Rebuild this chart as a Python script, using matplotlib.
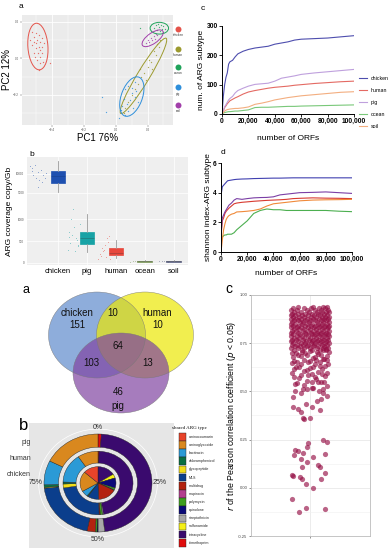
import numpy as np
import matplotlib
matplotlib.use('Agg')
import matplotlib.pyplot as plt
from matplotlib.patches import Ellipse, Wedge, Circle, Rectangle

plt.rcParams['font.family'] = ['Liberation Sans', 'DejaVu Sans']

# ── data ─────────────────────────────────────────────────────────────────────
# PCA (panel a, top)
pca_groups = ['chicken', 'human', 'ocean', 'pig', 'soil']
pca_colors = ['#E5534A', '#9C9A2E', '#1FA35A', '#2E8FDB', '#A23FAA']
chicken_pc1 = [-0.526, -0.516, -0.505, -0.495, -0.484, -0.499, -0.474, -0.463, -0.516, -0.526, -0.484, -0.463, -0.478,
               -0.505, -0.491, -0.474, -0.463, -0.516, -0.495, -0.478, -0.411, -0.484, -0.453, -0.537, -0.509, -0.457]
chicken_pc2 = [0.145, 0.118, 0.136, 0.100, 0.127, 0.082, 0.091, 0.109, 0.091, 0.073, 0.064, 0.064, 0.045,
               0.055, 0.027, 0.009, 0.027, 0.027, -0.009, -0.027, -0.027, -0.064, 0.082, 0.100, 0.009, -0.018]
human_pc1 = [0.28, 0.27, 0.25, 0.22, 0.24, 0.20, 0.18, 0.16, 0.19, 0.14, 0.12, 0.10, 0.08, 0.06, 0.05, 0.21, 0.23, 0.26, 0.15]
human_pc2 = [0.10, 0.06, 0.02, -0.02, 0.04, -0.05, -0.08, -0.10, -0.12, -0.14, -0.17, -0.20, -0.24, -0.27, -0.30, -0.01, -0.06, 0.08, -0.06]
ocean_pc1 = [0.25, 0.27, 0.29, 0.30, 0.26, 0.28, 0.31, 0.265, 0.285, 0.154, 0.24, 0.295]
ocean_pc2 = [0.18, 0.17, 0.16, 0.175, 0.155, 0.15, 0.16, 0.185, 0.18, 0.164, 0.165, 0.145]
pig_pc1 = [0.06, 0.08, 0.10, 0.12, 0.09, 0.07, 0.11, 0.05, 0.13, 0.04, 0.08, 0.10, 0.14, 0.06, 0.03, 0.12, -0.084, -0.063, 0.021]
pig_pc2 = [-0.17, -0.15, -0.19, -0.21, -0.23, -0.25, -0.27, -0.22, -0.18, -0.26, -0.29, -0.16, -0.24, -0.31, -0.28, -0.13, -0.209, -0.291, -0.327]
soil_pc1 = [0.20, 0.22, 0.24, 0.25, 0.21, 0.23, 0.26, 0.19, 0.245]
soil_pc2 = [0.10, 0.11, 0.12, 0.13, 0.09, 0.10, 0.125, 0.085, 0.105]
ell_cx = [-0.49, 0.174, 0.274, 0.101, 0.232]
ell_cy = [0.064, -0.096, 0.164, -0.209, 0.109]
ell_w = [0.255, 0.50, 0.116, 0.23, 0.15]
ell_h = [0.126, 0.075, 0.064, 0.13, 0.06]
ell_ang = [95, 55, 0, 65, 30]

# rarefaction curves (panels c, d top)
orfs = [0, 1000, 2000, 3000, 4000, 5000, 6000, 8000, 10000, 12000, 16000, 20000,
        25000, 30000, 35000, 40000, 45000, 50000, 55000, 60000, 70000, 80000, 90000, 100000]
curve_names = ['chicken', 'human', 'pig', 'ocean', 'soil']
n_chicken = [0, 60, 100, 125, 140, 170, 178, 183, 195, 205, 214, 220, 225, 228, 231, 238, 242, 246, 252, 255, 257, 259, 263, 267]
n_human = [0, 10, 22, 28, 35, 40, 45, 50, 55, 59, 68, 75, 80, 84, 88, 91, 93, 95, 98, 100, 104, 107, 110, 112]
n_pig = [0, 12, 25, 32, 40, 48, 53, 60, 72, 80, 88, 95, 101, 103, 105, 112, 122, 126, 130, 135, 140, 144, 148, 152]
n_ocean = [0, 3, 5, 6, 7, 8, 8, 9, 10, 10, 12, 14, 22, 23, 23, 24, 25, 26, 26, 27, 28, 29, 30, 31]
n_soil = [0, 5, 10, 13, 15, 16, 17, 18, 19, 19, 21, 24, 33, 37, 42, 48, 52, 56, 59, 62, 66, 70, 74, 76]
h_chicken = [3.8, 4.4, 4.5, 4.6, 4.7, 4.8, 4.82, 4.85, 4.88, 4.9, 4.92, 4.93, 4.95, 4.96, 4.97, 4.98, 4.98, 4.99, 5.0, 5.0, 5.0, 5.0, 5.0, 5.0]
h_human = [1.0, 2.1, 2.3, 2.6, 2.75, 2.85, 2.95, 3.1, 3.25, 3.3, 3.35, 3.38, 3.42, 3.45, 3.48, 3.5, 3.52, 3.55, 3.6, 3.62, 3.65, 3.63, 3.62, 3.6]
h_pig = [1.2, 2.3, 2.5, 2.7, 2.85, 3.0, 3.15, 3.3, 3.5, 3.6, 3.55, 3.6, 3.65, 3.67, 3.68, 3.72, 3.85, 3.9, 3.95, 4.0, 4.02, 4.05, 4.0, 3.95]
h_ocean = [0.9, 1.0, 1.1, 1.15, 1.15, 1.2, 1.2, 1.2, 1.3, 1.5, 1.8, 2.1, 2.6, 2.8, 2.9, 2.85, 2.85, 2.8, 2.8, 2.8, 2.8, 2.8, 2.75, 2.72]
h_soil = [0.0, 0.8, 1.5, 1.9, 2.2, 2.35, 2.45, 2.55, 2.6, 2.7, 2.72, 2.75, 2.8, 2.9, 3.1, 3.25, 3.3, 3.35, 3.4, 3.45, 3.5, 3.52, 3.53, 3.55]

# boxplot (panel b top)
box_names = ['chicken', 'pig', 'human', 'ocean', 'soil']
box_q1 = [7670, 423, 169, 18, 20]
box_med = [9350, 561, 231, 30, 32]
box_q3 = [10680, 700, 346, 42, 45]
box_lo = [5190, 254, 115, 10, 12]
box_hi = [13420, 1138, 523, 55, 58]
box_colors = ['#1E50B0', '#17A2A5', '#E8473C', '#7D9A5A', '#5E6486']
pts_grp = [0]*14 + [1]*14 + [2]*12 + [3]*5 + [4]*5
pts_x = [0.05, 0.12, 0.2, 0.3, 0.15, 0.4, 0.25, 0.35, 0.5, 0.6, 0.45, 0.1, 0.55, 0.3,
         1.35, 1.42, 1.5, 1.55, 1.62, 1.7, 1.45, 1.38, 1.58, 1.66, 1.75, 1.52, 1.4, 1.68,
         2.4, 2.48, 2.55, 2.62, 2.7, 2.78, 2.45, 2.52, 2.66, 2.74, 2.58, 2.8,
         3.5, 3.6, 3.68, 3.75, 3.82, 4.5, 4.6, 4.68, 4.75, 4.82]
pts_y = [12000, 11500, 12500, 10500, 9800, 11000, 9000, 8500, 9600, 10200, 7800, 10800, 8800, 6500,
         300, 450, 650, 820, 560, 380, 1000, 700, 260, 520, 900, 1250, 600, 420,
         80, 150, 260, 400, 560, 620, 200, 330, 120, 480, 300, 90,
         25, 30, 35, 28, 32, 28, 34, 30, 36, 26]

# Venn (panel a bottom)
venn_labels = [('chicken', 77, 313), ('151', 77, 325), ('10', 113, 313), ('human', 157, 313), ('10', 158, 325),
               ('64', 118, 346), ('103', 91, 363), ('13', 148, 363), ('46', 118, 392), ('pig', 118, 406)]

# donut (panel b bottom), stacking order clockwise from 0%
arg_types = ['aminocoumarin', 'aminoglycoside', 'bacitracin', 'chloramphenicol', 'glycopeptide', 'MLS',
             'multidrug', 'mupirocin', 'polymyxin', 'quinolone', 'streptothricin', 'sulfonamide',
             'tetracycline', 'trimethoprim']
arg_colors = ['#E8432A', '#D9881E', '#2B9AD6', '#0A7042', '#F2DE1A', '#0B3E8C', '#B3220F',
              '#B23E8E', '#3E9E1F', '#0A0A78', '#A8A8A8', '#F5F018', '#3A0A6E', '#E00D0D']
pct_chicken = [13.5, 20, 6, 1, 0, 10, 17, 0.5, 2, 10, 0, 4, 16, 0]
pct_human = [0, 9.5, 15, 1, 2, 23, 0.5, 0, 1, 0, 0.5, 0, 47, 0.5]
pct_pig = [0, 17.6, 8, 0.8, 0.3, 20, 2.5, 0, 0.5, 0.3, 2, 0, 47, 1]
ring_names = ['chicken', 'human', 'pig']
ring_in = [0.0, 0.407, 0.731]
ring_out = [0.333, 0.648, 1.0]

# correlation scatter (panel c bottom)
sparse_jit = [-0.18, -0.04, -0.11, 0.15, 0.03, -0.04, -0.17, -0.18, -0.10, -0.08, 0.11, 0.15, -0.09, -0.16, -0.15,
              -0.12, -0.07, -0.03, -0.08, 0.03, -0.03, -0.02, 0.08, 0.10, 0.15, 0.13, 0.17, -0.17, -0.12, -0.09,
              -0.07, -0.06, 0.0, 0.02, -0.04, 0.10, -0.17,
              0.069, 0.11, 0.173, -0.148, -0.094, -0.031, 0.031, 0.094, 0.132, -0.126, -0.063, 0.016, 0.079, 0.142,
              -0.164, -0.094, -0.016, 0.047, 0.119, 0.173, -0.157, -0.11, -0.031, 0.031, 0.101, 0.151, -0.182,
              -0.126, -0.063, 0.0, 0.063, 0.126, 0.173, -0.173, -0.094, -0.031, 0.047, 0.11, 0.167, -0.142,
              -0.079, 0.0, 0.069, 0.132, 0.189,
              -0.18, -0.05, 0.08, 0.16, -0.12, 0.03, 0.14, -0.16, -0.02, 0.10, -0.09, 0.05, 0.18, -0.14, 0.0,
              0.12, -0.06, 0.08, -0.18, 0.02, 0.15, -0.11, 0.06, -0.03, 0.11, -0.15, 0.17, 0.02, -0.07, 0.13]
sparse_r = [-0.057, -0.106, -0.127, -0.111, -0.003, 0.018, 0.060, 0.065, 0.057, 0.047, 0.044, 0.077, 0.150, 0.170,
            0.195, 0.19, 0.18, 0.134, 0.11, 0.16, 0.21, 0.232, 0.118, 0.11, 0.175, 0.25, 0.237, 0.417, 0.407, 0.395,
            0.361, 0.358, 0.363, 0.417, 0.436, 0.402, 0.469,
            0.449, 0.461, 0.477, 0.502, 0.493, 0.510, 0.518, 0.502, 0.510, 0.542, 0.534, 0.551, 0.551, 0.551,
            0.575, 0.583, 0.587, 0.575, 0.592, 0.596, 0.616, 0.624, 0.613, 0.624, 0.632, 0.632, 0.645,
            0.652, 0.665, 0.657, 0.665, 0.668, 0.662, 0.681, 0.685, 0.690, 0.681, 0.690, 0.685, 0.701,
            0.706, 0.711, 0.706, 0.714, 0.706,
            0.70, 0.70, 0.695, 0.72, 0.69, 0.675, 0.67, 0.66, 0.655, 0.65, 0.64, 0.64, 0.64, 0.625, 0.62,
            0.615, 0.605, 0.60, 0.595, 0.59, 0.58, 0.57, 0.565, 0.555, 0.55, 0.54, 0.53, 0.52, 0.51, 0.49]
dense_rows = [
    (0.938, [-0.12, 0.03, 0.13, 0.17]),
    (0.930, [-0.17, -0.06, 0.01, 0.09, 0.15]),
    (0.921, [-0.19, -0.13, -0.03, 0.05, 0.11, 0.18]),
    (0.912, [-0.16, -0.09, -0.01, 0.07, 0.12, 0.16, 0.19]),
    (0.903, [-0.18, -0.12, -0.05, 0.02, 0.08, 0.14]),
    (0.894, [-0.19, -0.15, -0.08, -0.02, 0.04, 0.10, 0.17]),
    (0.886, [-0.17, -0.11, -0.06, 0.01, 0.06, 0.12, 0.15, 0.19]),
    (0.877, [-0.19, -0.14, -0.09, -0.03, 0.03, 0.09, 0.14, 0.18]),
    (0.868, [-0.16, -0.12, -0.05, 0.0, 0.05, 0.11, 0.16]),
    (0.859, [-0.18, -0.10, -0.07, -0.01, 0.07, 0.13, 0.19]),
    (0.850, [-0.19, -0.15, -0.08, -0.03, 0.02, 0.08, 0.12, 0.17]),
    (0.841, [-0.17, -0.12, -0.05, 0.01, 0.05, 0.10, 0.15, 0.19]),
    (0.832, [-0.19, -0.13, -0.09, -0.02, 0.04, 0.09, 0.14, 0.18]),
    (0.823, [-0.16, -0.11, -0.06, 0.0, 0.06, 0.12, 0.17]),
    (0.814, [-0.18, -0.14, -0.07, -0.02, 0.03, 0.08, 0.13, 0.19]),
    (0.805, [-0.19, -0.12, -0.05, 0.01, 0.07, 0.11, 0.16]),
    (0.796, [-0.17, -0.10, -0.04, 0.02, 0.05, 0.10, 0.15, 0.18]),
    (0.787, [-0.19, -0.13, -0.08, -0.02, 0.04, 0.09, 0.14, 0.19]),
    (0.778, [-0.16, -0.11, -0.06, 0.0, 0.06, 0.12, 0.17]),
    (0.769, [-0.18, -0.14, -0.07, -0.01, 0.03, 0.08, 0.13, 0.18]),
    (0.760, [-0.19, -0.12, -0.04, 0.02, 0.07, 0.11, 0.16]),
    (0.751, [-0.17, -0.09, -0.05, 0.01, 0.05, 0.10, 0.15, 0.19]),
    (0.742, [-0.18, -0.13, -0.07, -0.02, 0.04, 0.12, 0.17]),
    (0.733, [-0.15, -0.10, -0.03, 0.03, 0.08, 0.14]),
    (0.724, [-0.19, -0.12, -0.06, 0.0, 0.07, 0.13, 0.18]),
    (0.716, [-0.16, -0.08, 0.02, 0.10, 0.16]),
]

# ── figure / helpers ─────────────────────────────────────────────────────────
W, H = 389, 550
fig = plt.figure(figsize=(W/100, H/100), dpi=100)
fig.patch.set_facecolor('white')

def px_axes(l, t, r, b, **kw):
    return fig.add_axes([l/W, 1 - b/H, (r - l)/W, (b - t)/H], **kw)

GREY = '#EBEBEB'

# ── a: PCA ───────────────────────────────────────────────────────────────────
ax = px_axes(22, 15, 173, 125)
ax.set_facecolor(GREY)
ax.set_xlim(-0.59, 0.36)
ax.set_ylim(-0.364, 0.236)
ax.set_xticks([-0.4, -0.2, 0.0, 0.2])
ax.set_yticks([-0.2, 0.0, 0.2])
ax.set_xticks([-0.5, -0.3, -0.1, 0.1, 0.3], minor=True)
ax.set_yticks([-0.3, -0.1, 0.1], minor=True)
ax.grid(True, which='major', color='white', lw=0.6)
ax.grid(True, which='minor', color='white', lw=0.3)
ax.set_axisbelow(True)
for s in ax.spines.values():
    s.set_visible(False)
ax.tick_params(labelsize=2.2, length=1.2, width=0.3, colors='#555555', pad=1)
ax.tick_params(which='minor', length=0)
pc1 = [chicken_pc1, human_pc1, ocean_pc1, pig_pc1, soil_pc1]
pc2 = [chicken_pc2, human_pc2, ocean_pc2, pig_pc2, soil_pc2]
for i, g in enumerate(pca_groups):
    ax.scatter(pc1[i], pc2[i], s=0.9, color=pca_colors[i], alpha=0.8, lw=0)
    ax.add_patch(Ellipse((ell_cx[i], ell_cy[i]), ell_w[i], ell_h[i], angle=ell_ang[i],
                         fill=False, ec=pca_colors[i], lw=0.7))
ax.set_xlabel('PC1 76%', fontsize=7, labelpad=0.5)
ax.set_ylabel('PC2 12%', fontsize=7, labelpad=1)

# ── c: richness curves ───────────────────────────────────────────────────────
curve_c = ['#4E4EAE', '#E46A63', '#BFA0DD', '#79C879', '#F3AE80']
ax = px_axes(222, 26, 354, 114)
for name, y, c in zip(curve_names, [n_chicken, n_human, n_pig, n_ocean, n_soil], curve_c):
    ax.plot(orfs, y, color=c, lw=0.8, label=name)
ax.set_xlim(0, 100000)
ax.set_ylim(0, 300)
ax.set_xticks([0, 20000, 40000, 60000, 80000, 100000])
ax.set_xticklabels(['0', '20,000', '40,000', '60,000', '80,000', '100,000'])
ax.set_yticks([0, 100, 200, 300])
for s in ['top', 'right']:
    ax.spines[s].set_visible(False)
for s in ['left', 'bottom']:
    ax.spines[s].set_linewidth(0.7)
ax.tick_params(labelsize=4.8, length=2, width=0.6, pad=1)
for lab in ax.get_xticklabels() + ax.get_yticklabels():
    lab.set_fontweight('bold')
ax.set_ylabel('num. of ARG subtype', fontsize=6, labelpad=1)
ax.set_xlabel('number of ORFs', fontsize=6, labelpad=7)
ax.legend(loc='upper left', bbox_to_anchor=(1.02, 0.46), frameon=False, fontsize=3.8,
          handlelength=1.6, labelspacing=1.35, borderaxespad=0, handletextpad=0.6)

# ── d: shannon curves ────────────────────────────────────────────────────────
curve_d = ['#4040B0', '#D83A30', '#7B3FA5', '#4CAF50', '#F08A3A']
ax = px_axes(221, 163, 352, 252)
for name, y, c in zip(curve_names, [h_chicken, h_human, h_pig, h_ocean, h_soil], curve_d):
    ax.plot(orfs, y, color=c, lw=0.8)
ax.set_xlim(0, 100000)
ax.set_ylim(0, 6)
ax.set_xticks([0, 20000, 40000, 60000, 80000, 100000])
ax.set_xticklabels(['0', '20,000', '40,000', '60,000', '80,000', '100,000'])
ax.set_yticks([0, 2, 4, 6])
for s in ['top', 'right']:
    ax.spines[s].set_visible(False)
for s in ['left', 'bottom']:
    ax.spines[s].set_linewidth(0.7)
ax.tick_params(labelsize=4.8, length=2, width=0.6, pad=1)
for lab in ax.get_xticklabels() + ax.get_yticklabels():
    lab.set_fontweight('bold')
ax.set_ylabel('shannon index-ARG subtype', fontsize=6, labelpad=1)
ax.set_xlabel('number of ORFs', fontsize=6, labelpad=5)

# ── b: ARG coverage boxplot (broken y scale) ─────────────────────────────────
def fwd(y):
    y = np.asarray(y, dtype=float)
    return np.where(y <= 1300, y * 0.13, 169 + (y - 1300) * 0.0113)

def inv(p):
    p = np.asarray(p, dtype=float)
    return np.where(p <= 169, p / 0.13, 1300 + (p - 169) / 0.0113)

ax = px_axes(27, 157, 188, 265)
ax.set_facecolor('#EFEFEF')
ax.set_yscale('function', functions=(fwd, inv))
for g, x, y in zip(pts_grp, pts_x, pts_y):
    ax.scatter(x, y, s=0.5, color=box_colors[g], alpha=0.35, lw=0)
stats = [dict(med=box_med[i], q1=box_q1[i], q3=box_q3[i], whislo=box_lo[i], whishi=box_hi[i])
         for i in range(5)]
bp = ax.bxp(stats, positions=range(1, 6), widths=0.5, showfliers=False, showcaps=False,
            patch_artist=True,
            whiskerprops=dict(color='#9A9A9A', lw=0.6),
            medianprops=dict(color='#333333', lw=0.4))
for patch, c in zip(bp['boxes'], box_colors):
    patch.set_facecolor(c)
    patch.set_edgecolor(c)
    patch.set_linewidth(0.5)
for m, c in zip(bp['medians'], box_colors):
    m.set_color('#10306A' if c == '#1E50B0' else '#333333')
    m.set_alpha(0.5)
ax.set_ylim(-54, 14500)
ax.set_xlim(-0.07, 5.5)
ax.set_yticks([0, 500, 1000, 5000, 10000])
ax.set_yticklabels(['0', '500', '1000', '5000', '10000'])
ax.set_xticks(range(1, 6))
ax.set_xticklabels(box_names)
ax.grid(True, color='white', lw=0.5)
ax.set_axisbelow(True)
for s in ax.spines.values():
    s.set_visible(False)
ax.tick_params(axis='y', labelsize=2.2, length=0, colors='#555555', pad=2)
ax.tick_params(axis='x', labelsize=5.5, length=0, pad=2)
ax.set_ylabel('ARG coverage copy/Gb', fontsize=6, labelpad=2)

# ── bottom b: donut ──────────────────────────────────────────────────────────
ax = px_axes(29, 423, 174, 548)
ax.set_facecolor('#E6E6E6')
ax.set_xlim((29 - 98) / 54, (174 - 98) / 54)
ax.set_ylim((483 - 548) / 49, (483 - 423) / 49)
ax.set_aspect('auto')
ax.set_xticks([])
ax.set_yticks([])
for s in ax.spines.values():
    s.set_visible(False)
ax.add_patch(Circle((0, 0), 1.1, fill=False, ec='white', lw=0.5))
for pct, r0, r1 in zip([pct_chicken, pct_human, pct_pig], ring_in, ring_out):
    start = 0.0
    for v, c in zip(pct[::-1], arg_colors[::-1]):
        if v <= 0:
            continue
        end = start + v / 100.0
        ax.add_patch(Wedge((0, 0), r1, 90 - 360 * end, 90 - 360 * start,
                           width=(r1 - r0) if r0 > 0 else None,
                           fc=c, ec='#222222', lw=0.3))
        start = end
for txt, x, y in [('0%', 0, 1.14), ('25%', 1.15, 0), ('50%', 0, -1.16), ('75%', -1.15, 0)]:
    ax.text(x, y, txt, fontsize=5, ha='center', va='center', color='#333333')

# ── bottom c: correlation scatter ────────────────────────────────────────────
ax = px_axes(251, 295, 370, 536)
dense_jit = [x for _, xs in dense_rows for x in xs]
dense_r = [y for y, xs in dense_rows for _ in xs]
all_jit = np.array(sparse_jit + dense_jit)
all_r = np.array(sparse_r + dense_r)
ax.scatter(1 + all_jit, all_r, s=14, color='#950F45', alpha=0.65, lw=0)
ax.set_xlim(0.41, 1.6)
ax.set_yticks([-0.25, 0.0, 0.25, 0.5, 0.75, 1.0])
ax.set_yticklabels(['-0.25', '0.00', '0.25', '0.50', '0.75', '1.00'])
ax.set_yticks([-0.125, 0.125, 0.375, 0.625, 0.875], minor=True)
ax.set_ylim(-0.25, 1.0)
ax.set_xticks([1])
ax.set_xticklabels([''])
ax.grid(True, which='major', color='#E4E4E4', lw=0.5)
ax.grid(True, which='minor', axis='y', color='#F0F0F0', lw=0.4)
ax.set_axisbelow(True)
for s in ax.spines.values():
    s.set_color('#BBBBBB')
    s.set_linewidth(0.6)
ax.tick_params(labelsize=3, length=1.5, width=0.4, colors='#444444', pad=1)
ax.tick_params(which='minor', length=0)
ax.set_ylabel(r'$r$ of the Pearson correlation coefficient ($p$ < 0.05)', fontsize=6.3, labelpad=0.5)

# ── overlay: labels, legends, Venn ───────────────────────────────────────────
ov = fig.add_axes([0, 0, 1, 1], zorder=10)
ov.set_xlim(0, W)
ov.set_ylim(H, 0)
ov.axis('off')
ov.patch.set_alpha(0)

# panel letters
ov.text(21, 7, 'a', fontsize=6, ha='center', va='center')
ov.text(32, 155, 'b', fontsize=6, ha='center', va='center')
ov.text(203, 9, 'c', fontsize=6, ha='center', va='center')
ov.text(223, 152, 'd', fontsize=6, ha='center', va='center')
ov.text(26, 290, 'a', fontsize=9, ha='center', va='center')
ov.text(24, 426, 'b', fontsize=12, ha='center', va='center')
ov.text(229, 289, 'c', fontsize=10, ha='center', va='center')

# PCA legend
for i, (g, c) in enumerate(zip(pca_groups, pca_colors)):
    y = [29, 49, 67, 87, 105][i]
    ov.plot(178, y, 'o', ms=4.3, color=c, mec='none')
    ov.text(178, y + 6.5, g, fontsize=2.3, ha='center', va='center', color='#333333')

# Venn
venn_c = ['#5F8BCD', '#ECE705', '#8044A2']
venn_xy = [(97, 335), (145, 335), (121, 373)]
venn_wh = [(97, 86), (97, 86), (96, 80)]
for (cx, cy), (w, h), c in zip(venn_xy, venn_wh, venn_c):
    ov.add_patch(Ellipse((cx, cy), w, h, fc=c, alpha=0.7, ec='none'))
for (cx, cy), (w, h) in zip(venn_xy, venn_wh):
    ov.add_patch(Ellipse((cx, cy), w, h, fill=False, ec='#777777', lw=0.3))
for s, x, y in venn_labels:
    ov.text(x, y, s, fontsize=7, ha='center', va='center', color='#111111')

# donut ring labels
for name, y in zip(ring_names, [475, 458, 442]):
    ov.text(31, y, name, fontsize=5, ha='right', va='center', color='#333333')

# donut legend
ov.text(172, 428, 'shared ARG type', fontsize=3.6, family='Liberation Serif', va='center', ha='left')
for i, (t, c) in enumerate(zip(arg_types, arg_colors)):
    y = 433 + i * 8.15
    ov.add_patch(Rectangle((179, y), 7, 7.6, fc=c, ec='#222222', lw=0.3))
    ov.text(188.5, y + 3.8, t, fontsize=2.6, va='center', ha='left', color='#222222')

fig.savefig('out.png', dpi=100, facecolor='white')
